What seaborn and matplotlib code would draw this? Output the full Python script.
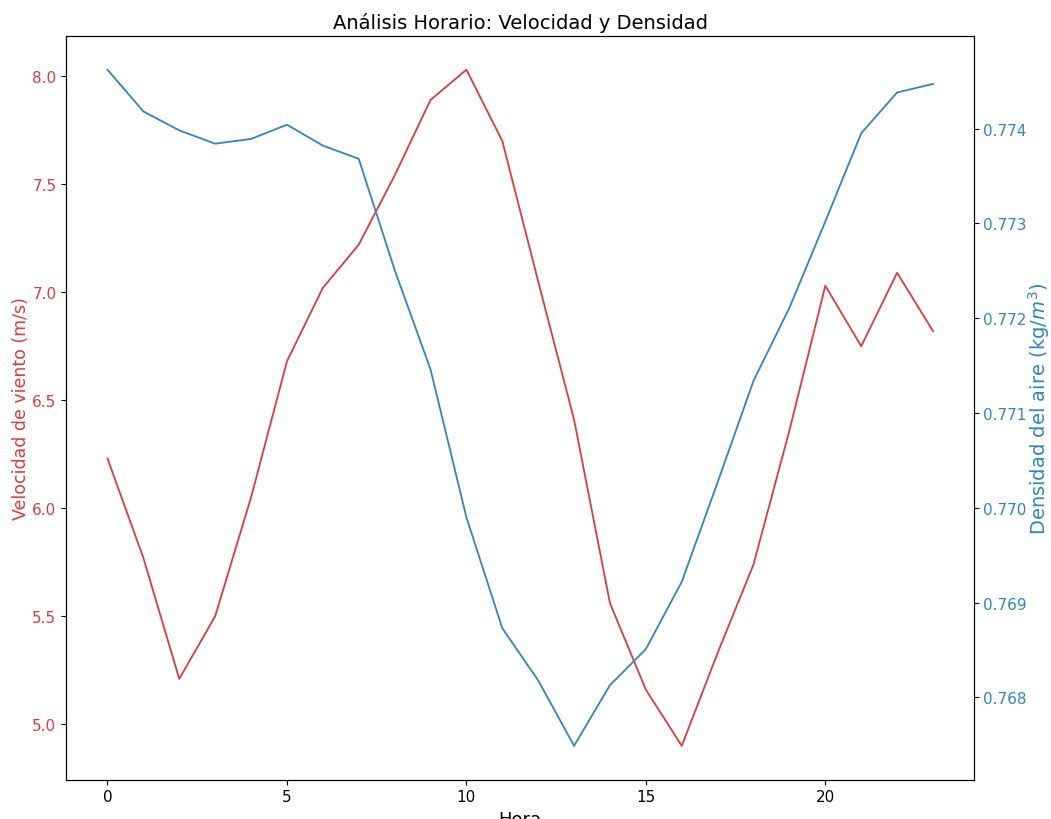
import numpy as np
import pandas as pd
import matplotlib
matplotlib.use("Agg")
import matplotlib.pyplot as plt
import seaborn as sns

# ------------------------------
# Data
# ------------------------------
horas = list(range(24))
velocidad = [6.23, 5.77, 5.21, 5.50, 6.05, 6.68, 7.02, 7.22, 7.54, 7.89,
             8.03, 7.70, 7.05, 6.41, 5.56, 5.16, 4.90, 5.33, 5.74, 6.36,
             7.03, 6.75, 7.09, 6.82]
densidad = [0.77462, 0.77418, 0.77398, 0.77384, 0.77389, 0.77404, 0.77382,
            0.77368, 0.77251, 0.77146, 0.76990, 0.76873, 0.76818, 0.76749,
            0.76813, 0.76851, 0.76922, 0.77027, 0.77134, 0.77211, 0.77302,
            0.77395, 0.77438, 0.77447]

df = pd.DataFrame({"Hora": horas, "Velocidad": velocidad, "Densidad": densidad})

color_vel = "#e03a3e"
color_den = "#2e86c1"

# ------------------------------
# Plot
# ------------------------------
fig, ax1 = plt.subplots(figsize=(10.51, 8.2), dpi=100)
fig.subplots_adjust(left=0.063, right=0.927, top=0.955, bottom=0.048)

sns.lineplot(data=df, x="Hora", y="Velocidad", ax=ax1, color=color_vel, linewidth=1.3)
ax1.set_xlabel("Hora", fontsize=13)
ax1.set_ylabel("Velocidad de viento (m/s)", color=color_vel, fontsize=12.5, labelpad=1.5)
ax1.tick_params(axis="y", labelcolor=color_vel, labelsize=11)
ax1.tick_params(axis="x", labelsize=11)
ax1.set_xticks([0, 5, 10, 15, 20])

ax2 = ax1.twinx()
sns.lineplot(data=df, x="Hora", y="Densidad", ax=ax2, color=color_den, linewidth=1.3)
ax2.set_ylabel("Densidad del aire (kg/$m^3$)", color=color_den, fontsize=14, labelpad=0)
ax2.tick_params(axis="y", labelcolor=color_den, labelsize=11, pad=2.5)
ax2.set_xlabel("Hora", fontsize=13)

ax1.set_title("Análisis Horario: Velocidad y Densidad", fontsize=14)

fig.savefig("out.png", dpi=100)
